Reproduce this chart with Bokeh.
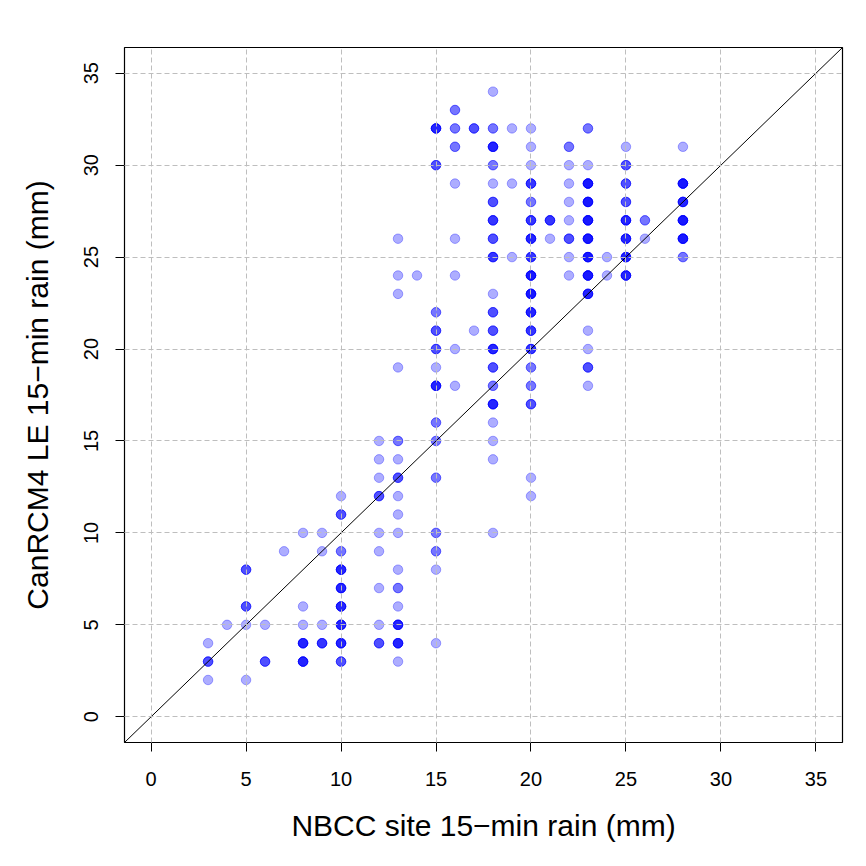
import numpy as np
from bokeh.plotting import figure
from bokeh.models import Range1d, FixedTicker, Slope, ColumnDataSource
from bokeh.embed import file_html
from bokeh.resources import INLINE

# Observed pairs (NBCC site x, CanRCM4 LE y) and how many times each pair occurs
obs_x = [18,
         16,
         15, 16, 17, 18, 19, 20, 23,
         16, 18, 20, 22, 25, 28,
         15, 18, 20, 22, 23, 25,
         16, 18, 19, 20, 22, 23, 25, 28,
         18, 20, 22, 23, 25, 28,
         18, 20, 21, 22, 23, 25, 26, 28,
         13, 16, 18, 20, 21, 22, 23, 25, 26, 28,
         18, 19, 20, 22, 23, 24, 25, 28,
         13, 14, 16, 20, 22, 23, 24, 25,
         13, 18, 20, 23,
         15, 18, 20,
         15, 17, 18, 20, 23,
         15, 16, 18, 20, 23,
         13, 15, 18, 20, 23,
         15, 16, 18, 20, 23,
         18, 20,
         15, 18,
         12, 13, 15, 18,
         12, 13, 18,
         12, 13, 15, 20,
         10, 12, 13, 20,
         10, 13,
         8, 9, 12, 13, 15, 18,
         7, 9, 10, 12, 15,
         5, 10, 13, 15,
         10, 12, 13,
         5, 8, 10, 13,
         4, 5, 6, 8, 9, 10, 12, 13,
         3, 8, 9, 10, 12, 13, 15,
         3, 6, 8, 10, 13,
         3, 5]
obs_y = [34,
         33,
         32, 32, 32, 32, 32, 32, 32,
         31, 31, 31, 31, 31, 31,
         30, 30, 30, 30, 30, 30,
         29, 29, 29, 29, 29, 29, 29, 29,
         28, 28, 28, 28, 28, 28,
         27, 27, 27, 27, 27, 27, 27, 27,
         26, 26, 26, 26, 26, 26, 26, 26, 26, 26,
         25, 25, 25, 25, 25, 25, 25, 25,
         24, 24, 24, 24, 24, 24, 24, 24,
         23, 23, 23, 23,
         22, 22, 22,
         21, 21, 21, 21, 21,
         20, 20, 20, 20, 20,
         19, 19, 19, 19, 19,
         18, 18, 18, 18, 18,
         17, 17,
         16, 16,
         15, 15, 15, 15,
         14, 14, 14,
         13, 13, 13, 13,
         12, 12, 12, 12,
         11, 11,
         10, 10, 10, 10, 10, 10,
         9, 9, 9, 9, 9,
         8, 8, 8, 8,
         7, 7, 7,
         6, 6, 6, 6,
         5, 5, 5, 5, 5, 5, 5, 5,
         4, 4, 4, 4, 4, 4, 4,
         3, 3, 3, 3, 3,
         2, 2]
obs_n = [1,
         2,
         5, 2, 3, 2, 1, 1, 2,
         2, 5, 1, 2, 1, 1,
         3, 2, 1, 1, 1, 3,
         1, 1, 1, 4, 1, 6, 3, 6,
         3, 2, 1, 6, 3, 5,
         4, 4, 4, 1, 6, 5, 2, 6,
         1, 1, 3, 5, 1, 3, 6, 5, 1, 6,
         4, 1, 4, 1, 6, 1, 5, 2,
         1, 1, 1, 6, 1, 6, 1, 5,
         1, 1, 6, 5,
         2, 3, 5,
         3, 1, 3, 4, 1,
         3, 1, 5, 4, 1,
         1, 1, 3, 2, 3,
         5, 1, 2, 2, 1,
         5, 3,
         2, 1,
         1, 2, 2, 1,
         1, 1, 1,
         1, 3, 2, 1,
         1, 3, 1, 1,
         3, 1,
         1, 1, 1, 1, 2, 1,
         1, 1, 2, 1, 2,
         3, 5, 1, 1,
         5, 1, 2,
         3, 1, 5, 1,
         1, 1, 1, 1, 1, 5, 1, 5,
         1, 5, 4, 5, 3, 5, 1,
         3, 3, 5, 3, 1,
         1, 1]

tick_values = [0, 5, 10, 15, 20, 25, 30, 35]
axis_min, axis_max = 0, 35

x_all = np.repeat(np.array(obs_x, dtype=float), obs_n)
y_all = np.repeat(np.array(obs_y, dtype=float), obs_n)

pad = 0.04 * (axis_max - axis_min)

p = figure(width=858, height=858, output_backend="svg", toolbar_location=None,
           x_range=Range1d(axis_min - pad, axis_max + pad),
           y_range=Range1d(axis_min - pad, axis_max + pad),
           min_border_left=124, min_border_right=16,
           min_border_top=47, min_border_bottom=116)
p.background_fill_color = "white"
p.border_fill_color = "white"
p.outline_line_color = "black"
p.outline_line_width = 1.2

src = ColumnDataSource(dict(x=x_all, y=y_all))
p.scatter("x", "y", source=src, size=9.5, fill_color="blue", fill_alpha=0.32,
          line_color="blue", line_alpha=0.32, line_width=1)

p.add_layout(Slope(gradient=1, y_intercept=0, line_color="black", line_width=1))

for g in (p.xgrid, p.ygrid):
    g.ticker = FixedTicker(ticks=tick_values)
    g.grid_line_color = "#BEBEBE"
    g.grid_line_dash = "5 3"
    g.grid_line_width = 1
    g.level = "overlay"

for ax in (p.xaxis, p.yaxis):
    ax.ticker = FixedTicker(ticks=tick_values)
    ax.axis_line_color = None
    ax.major_tick_line_color = "black"
    ax.major_tick_out = 9
    ax.major_tick_in = 0
    ax.minor_tick_line_color = None
    ax.major_label_text_font = "Liberation Sans"
    ax.major_label_text_font_size = "20px"
    ax.major_label_text_color = "black"
    ax.axis_label_text_font = "Liberation Sans"
    ax.axis_label_text_font_size = "30px"
    ax.axis_label_text_font_style = "normal"
    ax.axis_label_text_color = "black"

p.xaxis.axis_label = "NBCC site 15\u2212min rain (mm)"
p.yaxis.axis_label = "CanRCM4 LE 15\u2212min rain (mm)"
p.xaxis.major_label_standoff = 20
p.xaxis.axis_label_standoff = 20
p.yaxis.major_label_orientation = "vertical"
p.yaxis.major_label_standoff = 17
p.yaxis.axis_label_standoff = 28

open("out.html", "w").write(file_html(p, INLINE))
